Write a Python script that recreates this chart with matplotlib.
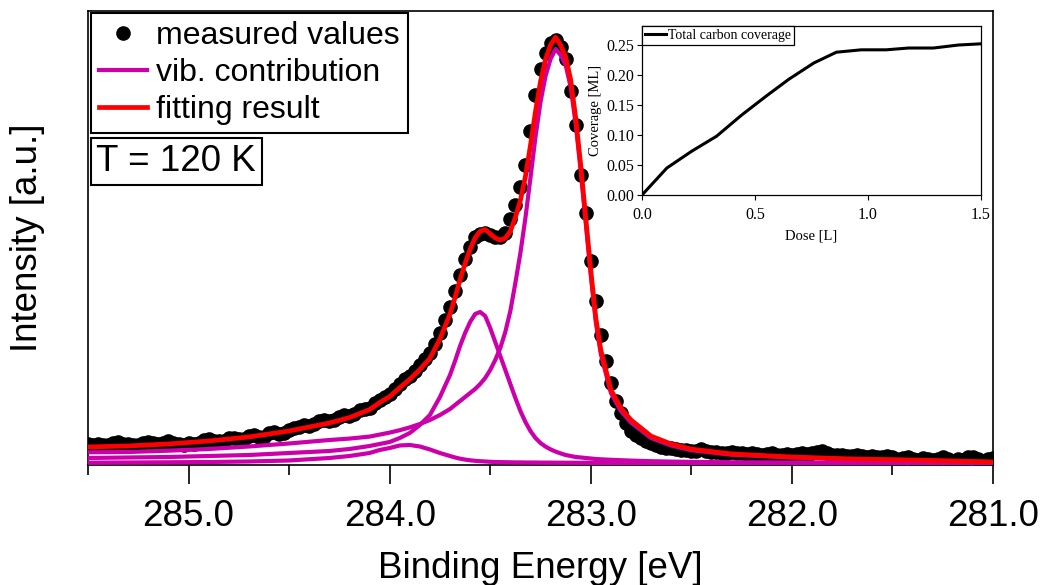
import numpy as np
import matplotlib.pyplot as plt
from matplotlib.ticker import MultipleLocator, FormatStrFormatter

plt.rcParams['font.family'] = ['Liberation Sans', 'DejaVu Sans']

MAGENTA = '#CC00AA'
RED = '#FF0000'

# C 1s spectrum, measured on a regular binding energy grid
E_START, E_STOP, E_STEP = 285.5, 281.0, 0.025
measured = [
    5.2, 5.0, 5.3, 5.1, 5.0, 5.5, 5.8, 5.3, 5.2, 5.0,
    5.1, 5.4, 5.7, 5.4, 5.2, 5.5, 5.9, 5.6, 5.3, 5.1,
    5.4, 5.3, 5.6, 6.3, 6.5, 6.0, 5.9, 6.1, 6.8, 6.7,
    6.4, 6.6, 7.2, 7.4, 7.0, 7.1, 7.9, 8.2, 7.8, 8.0,
    8.7, 9.2, 9.6, 9.9, 9.8, 10.2, 10.9, 11.2, 11.0, 11.3,
    12.1, 12.4, 12.2, 12.8, 13.7, 14.0, 14.3, 15.6, 16.3, 16.9,
    17.8, 18.9, 20.2, 21.5, 22.3, 23.6, 25.0, 26.6, 28.0, 30.3,
    33.0, 36.2, 39.6, 43.5, 47.6, 51.5, 54.6, 57.0, 57.8, 58.0,
    57.6, 56.9, 57.0, 58.0, 61.5, 65.0, 69.5, 75.0, 83.5, 92.5,
    99.0, 103.0, 105.5, 106.2, 104.5, 101.5, 93.5, 85.0, 72.5, 63.0,
    51.0, 41.0, 32.5, 26.0, 20.5, 16.0, 13.0, 10.5, 8.6, 7.4,
    6.7, 6.1, 5.6, 5.1, 4.6, 4.3, 4.2, 3.9, 3.8, 3.7,
    3.6, 3.6, 4.1, 3.5, 3.2, 3.3, 3.1, 3.0, 3.2, 3.1,
    2.9, 2.8, 3.0, 2.8, 2.6, 2.7, 2.9, 2.6, 2.5, 2.7,
    2.6, 2.8, 3.0, 2.7, 2.9, 3.3, 3.6, 3.0, 2.6, 2.4,
    2.6, 2.3, 2.2, 2.5, 2.2, 2.0, 2.3, 2.1, 2.0, 2.2,
    1.9, 1.4, 1.7, 2.0, 1.5, 1.3, 1.8, 1.5, 1.2, 1.6,
    1.9, 1.4, 1.1, 1.5, 1.3, 1.9, 2.1, 1.6, 1.1, 1.4,
    1.7,
]

# fit model evaluated on a finer grid around the peaks
fit_energy = [
    285.5, 285.3, 285.1, 284.9, 284.7, 284.5, 284.3, 284.2, 284.1, 284.05,
    284.0, 283.95, 283.9, 283.85, 283.8, 283.75, 283.7, 283.675, 283.65, 283.625,
    283.6, 283.575, 283.55, 283.525, 283.5, 283.475, 283.45, 283.425, 283.4, 283.375,
    283.35, 283.325, 283.3, 283.275, 283.25, 283.225, 283.2, 283.175, 283.15, 283.125,
    283.1, 283.075, 283.05, 283.025, 283.0, 282.975, 282.95, 282.9, 282.85, 282.8,
    282.7, 282.6, 282.5, 282.3, 282.0, 281.7, 281.4, 281.0,
]
fit_total = [
    4.51, 4.76, 5.26, 6.0, 7.01, 8.51, 10.5, 11.85, 13.85, 15.6,
    17.1, 19.33, 21.4, 23.88, 26.63, 31.5, 37.75, 41.88, 46.33, 50.35,
    53.93, 56.8, 58.45, 58.88, 57.8, 56.75, 56.23, 56.7, 58.43, 61.9,
    66.15, 72.13, 79.88, 88.37, 95.85, 101.45, 105.0, 106.93, 104.98, 102.07,
    96.32, 86.8, 74.93, 61.8, 48.68, 36.78, 28.71, 18.83, 14.23, 11.26,
    7.22, 5.25, 3.98, 2.76, 2.0, 1.51, 1.25, 0.76,
]
background = 0.5
peak_v0 = [
    2.68, 2.75, 3.08, 3.5, 4.13, 4.88, 5.75, 6.1, 6.6, 7.1,
    7.6, 8.2, 8.9, 9.75, 10.75, 12.0, 13.5, 14.5, 15.5, 16.5,
    17.5, 18.5, 19.75, 21.25, 23.25, 25.75, 28.75, 32.75, 38.0, 45.0,
    52.5, 61.25, 71.25, 81.5, 90.25, 96.75, 101.0, 103.5, 102.0, 99.5,
    94.0, 84.75, 73.0, 60.0, 47.0, 35.25, 27.25, 17.5, 13.0, 10.13,
    6.25, 4.38, 3.2, 2.08, 1.4, 0.93, 0.7, 0.23,
]
peak_v1 = [
    1.25, 1.38, 1.5, 1.75, 2.0, 2.5, 3.0, 3.5, 4.25, 4.75,
    5.25, 6.25, 7.5, 9.5, 12.0, 16.5, 22.0, 25.5, 29.25, 32.5,
    35.25, 37.25, 37.75, 36.75, 33.75, 30.25, 26.75, 23.25, 19.75, 16.25,
    13.0, 10.25, 8.0, 6.25, 5.0, 4.1, 3.4, 2.85, 2.4, 2.0,
    1.75, 1.5, 1.38, 1.25, 1.13, 1.0, 0.93, 0.8, 0.7, 0.6,
    0.45, 0.35, 0.28, 0.18, 0.1, 0.08, 0.05, 0.03,
]
peak_v2 = [
    0.08, 0.13, 0.18, 0.25, 0.38, 0.63, 1.25, 1.75, 2.5, 3.25,
    3.75, 4.38, 4.5, 4.13, 3.38, 2.5, 1.75, 1.38, 1.08, 0.85,
    0.68, 0.55, 0.45, 0.38, 0.3, 0.25, 0.23, 0.2, 0.18, 0.15,
    0.15, 0.13, 0.13, 0.12, 0.1, 0.1, 0.1, 0.08, 0.08, 0.07,
    0.07, 0.05, 0.05, 0.05, 0.05, 0.03, 0.03, 0.03, 0.03, 0.03,
    0.02, 0.02, 0.0, 0.0, 0.0, 0.0, 0.0, 0.0,
]

# uptake curve for the inset
dose = [0.0, 0.11, 0.22, 0.33, 0.44, 0.55, 0.65, 0.76, 0.86, 0.97, 1.08, 1.18, 1.29, 1.40, 1.50]
coverage = [0.0, 0.045, 0.073, 0.098, 0.133, 0.165, 0.193, 0.220, 0.238, 0.242,
            0.242, 0.245, 0.245, 0.250, 0.252]

energy = np.arange(len(measured)) * -E_STEP + E_START

fig = plt.figure(figsize=(10.42, 5.85), dpi=100)
ax = fig.add_axes([88 / 1042, 1 - 465 / 585, 905 / 1042, 454 / 585])

ax.plot(energy, measured, 'o', color='black', ms=9.5, zorder=2, label='measured values')
for i, peak in enumerate([peak_v0, peak_v1, peak_v2]):
    ax.plot(fit_energy, background + np.array(peak), color=MAGENTA, lw=3.0, zorder=3,
            label='vib. contribution' if i == 0 else None)
ax.plot(fit_energy, fit_total, color=RED, lw=3.4, zorder=4, label='fitting result')

ax.set_xlim(E_START, E_STOP)
ax.set_ylim(0, 113.5)
ax.set_yticks([])
ax.xaxis.set_major_locator(MultipleLocator(1.0))
ax.xaxis.set_minor_locator(MultipleLocator(0.5))
ax.xaxis.set_major_formatter(FormatStrFormatter('%.1f'))
ax.tick_params(axis='x', which='major', direction='out', length=13.5, width=1.2,
               labelsize=26.5, pad=11)
ax.tick_params(axis='x', which='minor', direction='out', length=7, width=1.2)
for s in ax.spines.values():
    s.set_linewidth(1.2)

ax.set_xlabel('Binding Energy [eV]', fontsize=26.5, labelpad=12)
ax.set_ylabel('Intensity [a.u.]', fontsize=26.5)
ax.yaxis.set_label_coords(-0.047, 0.5)

leg = ax.legend(loc='upper left', bbox_to_anchor=(0.003, 0.995), borderaxespad=0,
                fontsize=23, fancybox=False, edgecolor='black', framealpha=1,
                handlelength=1.5, handletextpad=0.3, labelspacing=0.22,
                borderpad=0.25, numpoints=1)
leg.get_frame().set_linewidth(1.5)

fig.text(96.5 / 1042, 1 - 161.5 / 585, 'T = 120 K', fontsize=26.5, ha='left', va='center',
         bbox=dict(boxstyle='square,pad=0.15', fc='white', ec='black', lw=1.5))

# inset: total carbon coverage vs. dose
serif = ['Liberation Serif', 'DejaVu Serif']
ins = fig.add_axes([642 / 1042, 1 - 195 / 585, 339 / 1042, 169 / 585])
ins.plot(dose, coverage, color='black', lw=2.2, label='Total carbon coverage')
ins.set_xlim(0, 1.5)
ins.set_ylim(0, 0.2817)
ins.xaxis.set_major_locator(MultipleLocator(0.5))
ins.yaxis.set_major_locator(MultipleLocator(0.05))
ins.xaxis.set_major_formatter(FormatStrFormatter('%.1f'))
ins.yaxis.set_major_formatter(FormatStrFormatter('%.2f'))
ins.tick_params(direction='out', length=3.5, width=0.8, pad=2)
ins.tick_params(axis='x', pad=5)
for lab in ins.get_xticklabels() + ins.get_yticklabels():
    lab.set_family(serif)
    lab.set_fontsize(11.5)
for s in ins.spines.values():
    s.set_linewidth(0.9)
ins.set_xlabel('Dose [L]', family=serif, fontsize=10.5, labelpad=5)
ins.set_ylabel('Coverage [ML]', family=serif, fontsize=10.5, labelpad=3)
ileg = ins.legend(loc='upper left', bbox_to_anchor=(0, 1), borderaxespad=0,
                  prop={'family': serif, 'size': 10}, fancybox=False, edgecolor='black',
                  framealpha=1, handlelength=1.5, handletextpad=0.2, borderpad=0.2)
ileg.get_frame().set_linewidth(0.9)

fig.savefig('out.png', dpi=100)
